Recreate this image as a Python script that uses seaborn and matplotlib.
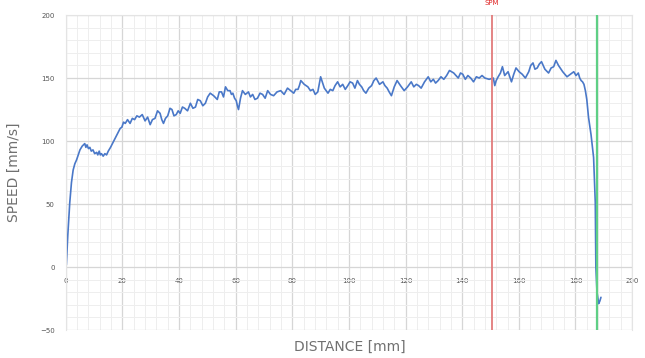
import pandas as pd
import matplotlib.pyplot as plt
import seaborn as sns
from matplotlib.ticker import MultipleLocator

# === data ===
distance = [0.0, 0.2, 0.7, 1.4, 2.0, 2.6, 3.2, 3.8, 4.4, 5.0, 5.8, 6.7, 7.1, 7.5, 8.0, 8.5,
            9.0, 9.6, 10.2, 10.9, 11.3, 11.8, 12.2, 12.6, 13.2, 13.8, 14.4, 15.0, 15.8,
            16.7, 17.6, 18.5, 19.2, 19.8, 20.4, 21.0, 21.8, 22.7, 23.5, 24.3, 25.1, 26.0,
            27.0, 28.0, 28.9, 29.8, 30.6, 31.5, 32.4, 33.3, 33.9, 34.5, 35.2, 36.0, 36.8,
            37.5, 38.2, 39.0, 39.7, 40.4, 41.2, 42.0, 43.0, 44.0, 44.9, 45.8, 46.6, 47.5,
            48.4, 49.3, 50.1, 51.0, 52.2, 53.5, 54.2, 55.0, 55.7, 56.4, 57.2, 58.0, 58.5,
            59.0, 59.6, 60.2, 60.6, 61.0, 61.7, 62.4, 63.4, 64.5, 65.2, 66.0, 66.8, 67.7,
            68.6, 69.5, 70.4, 71.3, 72.3, 73.4, 74.6, 75.9, 77.1, 78.3, 79.4, 80.5, 81.2,
            82.0, 82.5, 83.0, 84.2, 85.5, 86.4, 87.3, 88.1, 89.0, 89.5, 90.0, 91.3, 92.6,
            93.4, 94.3, 95.1, 96.0, 96.9, 97.8, 98.7, 99.6, 100.4, 101.3, 102.1, 103.0,
            103.7, 104.5, 105.2, 106.0, 107.0, 108.0, 108.8, 109.6, 110.8, 112.0, 112.7,
            113.5, 114.2, 115.0, 116.0, 117.0, 118.2, 119.5, 120.7, 122.0, 122.9, 123.8,
            124.6, 125.5, 126.7, 128.0, 128.9, 129.8, 130.6, 131.5, 132.5, 133.5, 134.5,
            135.5, 137.0, 138.6, 139.4, 140.2, 141.1, 142.0, 143.0, 144.0, 145.0, 146.0,
            147.0, 148.0, 149.5, 151.0, 151.5, 152.0, 152.7, 153.5, 154.2, 155.0, 156.2,
            157.4, 158.2, 159.0, 160.1, 161.2, 162.3, 163.5, 164.2, 165.0, 165.7, 166.5,
            167.2, 168.0, 169.2, 170.5, 171.4, 172.3, 173.1, 174.0, 175.5, 177.0, 178.2,
            179.4, 180.2, 181.0, 181.5, 182.0, 182.5, 183.0, 183.5, 184.0, 184.6, 185.5,
            186.4, 187.0, 187.2, 187.6, 188.2, 188.6, 189.0]
speed = [0, 2, 25, 51, 67, 77, 82, 85, 89, 93, 96, 98, 95, 97, 94, 95,
         92, 93, 90, 91, 89, 92, 89, 90, 88, 90, 89, 92, 95,
         99, 103, 107, 110, 111, 115, 114, 117, 114, 118, 117, 120, 119,
         121, 116, 119, 113, 117, 118, 124, 122, 117, 114, 118, 120, 126,
         125, 120, 121, 124, 122, 127, 126, 124, 130, 126, 127, 133, 132,
         128, 130, 135, 138, 136, 133, 139, 139, 135, 143, 140, 140, 137,
         138, 134, 132, 128, 125, 134, 140, 137, 139, 135, 137, 133, 134,
         138, 137, 134, 140, 137, 136, 139, 140, 137, 142, 140, 138, 141,
         141, 144, 148, 145, 143, 140, 141, 137, 139, 145, 151, 142, 138,
         141, 140, 144, 147, 143, 145, 141, 144, 147, 146, 142, 148,
         145, 143, 140, 138, 142, 144, 148, 150, 145, 147, 144,
         142, 139, 136, 143, 148, 144, 140, 143, 147, 143, 145,
         144, 142, 147, 151, 147, 149, 146, 148, 151, 149, 152,
         156, 154, 150, 154, 153, 149, 152, 150, 147, 151, 150,
         152, 150, 149, 150, 144, 148, 151, 154, 159, 152, 155,
         147, 153, 158, 155, 153, 150, 155, 160, 162, 157, 158,
         161, 163, 157, 154, 158, 159, 164, 160, 155, 151, 153,
         155, 152, 154, 150, 148, 147, 145, 140, 133, 119, 105,
         87, 51, 0, -20, -29, -27, -24]

x_ticks = list(range(0, 201, 20))
y_ticks = [-50, 0, 50, 100, 150, 200]
spm_x = 150.5
end_x = 187.6

df = pd.DataFrame({'distance': distance, 'speed': speed})

# === plot ===
sns.set_style('white')
fig = plt.figure(figsize=(6.45, 3.58), dpi=100)
ax = fig.add_axes([0.102, 0.078, 0.878, 0.88])

sns.lineplot(data=df, x='distance', y='speed', ax=ax, color='#4a78c8', linewidth=1.2,
             sort=False, estimator=None)

ax.axvline(spm_x, color='#e27b7b', linewidth=1.3, zorder=3)
ax.axvline(end_x, color='#5fcf85', linewidth=1.6, zorder=3)
ax.text(spm_x, 207, 'SPM', color='#e02828', fontsize=5, ha='center', va='bottom',
        clip_on=False)

ax.set_xlim(0, 200)
ax.set_ylim(-50, 200)
ax.set_xticks(x_ticks)
ax.set_yticks(y_ticks)
ax.xaxis.set_minor_locator(MultipleLocator(4))
ax.yaxis.set_minor_locator(MultipleLocator(10))
ax.grid(True, which='major', color='#d6d6d6', linewidth=0.9)
ax.grid(True, which='minor', color='#eeeeee', linewidth=0.7)
ax.set_axisbelow(True)

for s in ax.spines.values():
    s.set_color('#e4e4e4')
    s.set_linewidth(0.8)
ax.spines['bottom'].set_position(('data', 0))
ax.spines['bottom'].set_visible(False)

ax.tick_params(axis='both', which='both', length=0, labelsize=5, labelcolor='#555555')
ax.tick_params(axis='x', pad=8)
ax.tick_params(axis='y', pad=8)

ax.set_xlabel('')
ax.set_ylabel('SPEED [mm/s]', fontsize=10, color='#707070', labelpad=14)
fig.text(0.543, 0.03, 'DISTANCE [mm]', fontsize=10, color='#707070', ha='center', va='center')

fig.savefig('out.png', dpi=100)
